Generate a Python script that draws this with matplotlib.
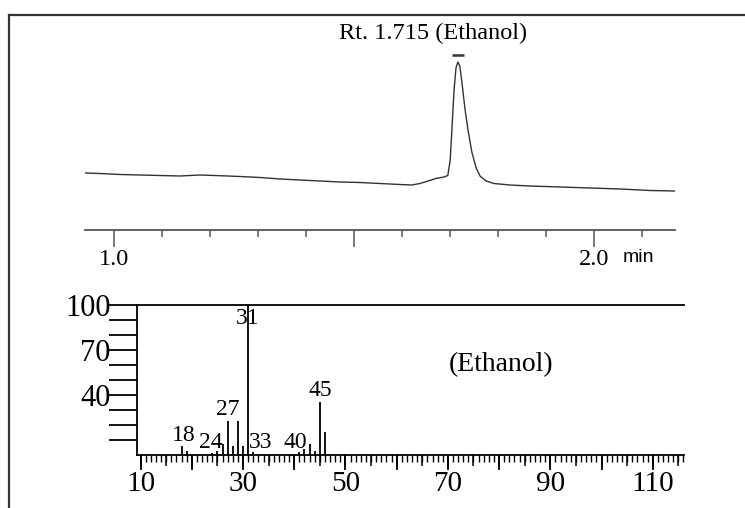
import matplotlib
matplotlib.use("Agg")
import matplotlib.pyplot as plt
from matplotlib.lines import Line2D
from matplotlib.ticker import MultipleLocator, FixedLocator, FuncFormatter

# chromatogram trace (retention time in min, detector response in arbitrary units)
rt_time = [0.940, 0.971, 1.012, 1.054, 1.096, 1.137, 1.179, 1.210, 1.262, 1.304,
           1.346, 1.387, 1.429, 1.471, 1.512, 1.554, 1.595, 1.620, 1.637, 1.654,
           1.670, 1.687, 1.695, 1.700, 1.704, 1.708, 1.712, 1.716, 1.720, 1.725,
           1.731, 1.737, 1.745, 1.754, 1.762, 1.775, 1.791, 1.824, 1.866, 1.929,
           1.991, 2.054, 2.116, 2.168]
rt_signal = [57, 56.5, 55.5, 55, 54.5, 54, 55, 54.5, 53.5, 52.5,
             51, 50, 49, 48, 47.5, 46.5, 45.5, 45, 46.5, 49,
             51.5, 53, 54.5, 70, 105, 140, 162, 168, 164, 145,
             120, 100, 78, 62, 54, 49, 46.5, 45, 44, 43,
             42, 41, 39.5, 39]
peak_window = [1.703, 1.728]
peak_label = "Rt. 1.715 (Ethanol)"

# mass spectrum (m/z, relative abundance %)
mz = [18, 19, 24, 25, 26, 27, 28, 29, 30, 31, 32, 41, 42, 43, 44, 45, 46]
abundance = [5.5, 2.5, 1.0, 2.5, 7, 22.5, 5.5, 22.5, 5.5, 100, 1.5,
             1.5, 3.4, 6.8, 2.3, 35, 15.3]
ion_labels = ["18", "24", "27", "31", "33", "40", "45"]
ion_label_x = [18.4, 23.7, 27.1, 31.0, 33.4, 40.2, 45.0]
ion_label_y = [13, 7.7, 30, 91, 7.7, 7.7, 43]

serif = "Liberation Serif"

fig = plt.figure(figsize=(7.45, 5.08), dpi=100)
W, H = 745, 508

# outer frame (left and top edges only)
fig.add_artist(Line2D([8.5 / W, 8.5 / W], [0, 1 - 14.5 / H], color="#333333", lw=1.6))
fig.add_artist(Line2D([8.5 / W, 1.01], [1 - 14.5 / H, 1 - 14.5 / H], color="#333333", lw=1.6))

# --- chromatogram ---
ax1 = fig.add_axes([85 / W, 1 - 230 / H, (675 - 85) / W, 190 / H])
ax1.plot(rt_time, rt_signal, color="#333333", lw=1.0)
ax1.hlines(175, peak_window[0], peak_window[1], color="#333333", lw=1.8)
ax1.text(1.715 - 0.05, 197, peak_label, ha="center", va="center",
         fontsize=17.5, family=serif, clip_on=False)
ax1.set_xlim(0.9396, 2.168)
ax1.set_ylim(0, 190)
for s in ["left", "right", "top"]:
    ax1.spines[s].set_visible(False)
ax1.spines["bottom"].set_color("#555555")
ax1.spines["bottom"].set_linewidth(1.3)
ax1.set_yticks([])
ax1.xaxis.set_major_locator(FixedLocator([1.0, 1.5, 2.0]))
ax1.xaxis.set_minor_locator(MultipleLocator(0.1))
ax1.xaxis.set_major_formatter(FuncFormatter(lambda v, p: "" if abs(v - 1.5) < 1e-6 else f"{v:.1f}"))
ax1.tick_params(axis="x", which="major", length=12, width=1.1, color="#555555",
                labelsize=17.5, pad=2)
ax1.tick_params(axis="x", which="minor", length=5, width=1.1, color="#555555")
for lab in ax1.get_xticklabels():
    lab.set_family(serif)
ax1.text(2.092, -27, "min", ha="center", va="center", fontsize=14,
         family="Liberation Sans", clip_on=False)
ax1.patch.set_alpha(0)

# --- mass spectrum ---
ax2 = fig.add_axes([137 / W, 1 - 454.5 / H, (684 - 137) / W, 149.5 / H])
ax2.vlines(mz, 0, abundance, color="black", lw=1.3)
for t, x, y in zip(ion_labels, ion_label_x, ion_label_y):
    ax2.text(x, y, t, ha="center", va="center", fontsize=17, family=serif)
ax2.text(80.3, 60, "(Ethanol)", ha="center", va="center", fontsize=20, family=serif)
ax2.set_xlim(9.3, 116.1)
ax2.set_ylim(0, 100)
ax2.spines["right"].set_visible(False)
for s in ["left", "bottom", "top"]:
    ax2.spines[s].set_linewidth(1.3)
ax2.yaxis.set_major_locator(FixedLocator(list(range(10, 101, 10))))
ax2.yaxis.set_major_formatter(FuncFormatter(lambda v, p: f"{int(v)}" if int(round(v)) in (40, 70, 100) else ""))
ax2.tick_params(axis="y", length=20, width=1.3, labelsize=22, pad=-1)
ax2.xaxis.set_major_locator(MultipleLocator(10))
ax2.xaxis.set_minor_locator(MultipleLocator(1))
ax2.xaxis.set_major_formatter(FuncFormatter(lambda v, p: f"{int(v)}" if int(round(v)) % 20 == 10 else ""))
ax2.tick_params(axis="x", which="major", length=11, width=1.3, labelsize=21, pad=1)
ax2.tick_params(axis="x", which="minor", length=5, width=1.0)
for lab in ax2.get_xticklabels() + ax2.get_yticklabels():
    lab.set_family(serif)

# medium ticks every 5
sec = ax2.secondary_xaxis("bottom")
sec.xaxis.set_major_locator(MultipleLocator(5))
sec.xaxis.set_major_formatter(FuncFormatter(lambda v, p: ""))
sec.tick_params(axis="x", length=8, width=1.1)
sec.spines["bottom"].set_visible(False)

fig.savefig("out.png", dpi=100)
